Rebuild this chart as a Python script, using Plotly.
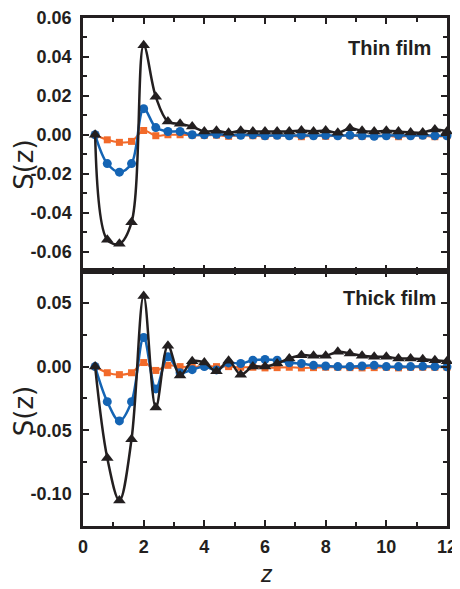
import plotly.graph_objects as go

z = [0.4, 0.8, 1.2, 1.6, 2.0, 2.4, 2.8, 3.2, 3.6, 4.0, 4.4, 4.8, 5.2, 5.6, 6.0,
     6.4, 6.8, 7.2, 7.6, 8.0, 8.4, 8.8, 9.2, 9.6, 10.0, 10.4, 10.8, 11.2, 11.6, 12.0]

thin_black = [0, -0.054, -0.056, -0.045, 0.046, 0.0195, 0.0068, 0.0056, 0.0042, 0.0017,
              0.002, 0.001, 0.002, 0.0017, 0.0017, 0.0017, 0.0017, 0.0022, 0.0017, 0.0022,
              0.001, 0.0033, 0.002, 0.0017, 0.002, 0.0017, 0.0012, 0.0012, 0.0027, 0.0017]
thin_blue = [0, -0.0148, -0.0192, -0.0148, 0.0134, 0.0037, 0.0017, 0.0017, 0.0, 0.0,
             0.0002, 0.0, -0.0003, 0.0, -0.0005, -0.0003, -0.0005, -0.0002, -0.0005, -0.0003,
             -0.0005, -0.0002, -0.0005, -0.0008, -0.0005, -0.0003, -0.0005, -0.0003, -0.0005, -0.0005]
thin_orange = [0, -0.0026, -0.0039, -0.0034, 0.0022, -0.0005, 0.0, 0.0, -0.0002, -0.0003,
               -0.0002, -0.0008, -0.0003, -0.0005, -0.0008, -0.0005, -0.0005, -0.001, -0.0005, -0.0008,
               -0.0005, -0.0005, -0.0008, -0.0005, -0.0005, -0.001, -0.0005, -0.0005, -0.001, -0.0005]

thick_black = [0, -0.0717, -0.105, -0.057, 0.0553, -0.032, 0.0164, -0.0069, 0.0042, 0.0032,
               -0.0037, 0.0045, -0.0063, 0.0, 0.0, 0.0024, 0.0064, 0.009, 0.0085, 0.0085,
               0.0116, 0.0103, 0.0085, 0.0077, 0.0077, 0.0064, 0.0064, 0.0058, 0.005, 0.0042]
thick_blue = [0, -0.0275, -0.0426, -0.0275, 0.0228, -0.0175, 0.0077, -0.0048, -0.0024, 0.0,
              -0.0026, 0.0029, 0.0024, 0.005, 0.0056, 0.005, 0.003, 0.0024, 0.001, 0.0005,
              0.0, 0.0, 0.0005, 0.001, 0.0, 0.0, 0.0, 0.0002, 0.0, -0.0002]
thick_orange = [0, -0.0048, -0.0063, -0.0048, 0.0032, -0.003, 0.001, 0.0, -0.0005, 0.0005,
                0.0, 0.0, -0.0005, -0.0005, -0.001, -0.0008, -0.0005, -0.001, -0.0008, -0.0005,
                -0.0005, -0.0008, -0.001, -0.0008, -0.0005, -0.001, -0.0005, -0.0005, -0.0005, -0.0005]

x_tickvals = [0, 2, 4, 6, 8, 10, 12]
x_ticktext = ["0", "2", "4", "6", "8", "10", "12"]
thin_tickvals = [-0.06, -0.04, -0.02, 0.0, 0.02, 0.04, 0.06]
thin_ticktext = ["-0.06", "-0.04", "-0.02", "0.00", "0.02", "0.04", "0.06"]
thick_tickvals = [-0.10, -0.05, 0.0, 0.05]
thick_ticktext = ["-0.10", "-0.05", "0.00", "0.05"]

INK = "#231f20"
BLUE = "#1464b4"
ORANGE = "#f26a2a"
FONT = "Liberation Sans, Arial, sans-serif"

fig = go.Figure()

def add_series(ys, color, symbol, size, width, xa, ya):
    fig.add_trace(go.Scatter(
        x=z, y=ys, mode="lines+markers", xaxis=xa, yaxis=ya,
        line=dict(color=color, width=width, shape="spline", smoothing=1.0),
        marker=dict(color=color, symbol=symbol, size=size, line=dict(width=0)),
        showlegend=False, cliponaxis=False))

add_series(thin_orange, ORANGE, "square", 7, 2, "x", "y")
add_series(thin_blue, BLUE, "circle", 9, 2.5, "x", "y")
add_series(thin_black, INK, "triangle-up", 11, 2.5, "x", "y")
add_series(thick_orange, ORANGE, "square", 7, 2, "x2", "y2")
add_series(thick_blue, BLUE, "circle", 9, 2.5, "x2", "y2")
add_series(thick_black, INK, "triangle-up", 11, 2.5, "x2", "y2")

tickfont = dict(family=FONT, size=18, color=INK, weight="bold")
common_x = dict(range=[0, 12], tickvals=x_tickvals, ticktext=x_ticktext,
                ticks="inside", ticklen=6, tickwidth=2, tickcolor=INK,
                minor=dict(ticks="inside", dtick=1, tick0=0, ticklen=4, tickwidth=1.5, tickcolor=INK),
                showline=True, linewidth=2.5, linecolor=INK, mirror="allticks",
                showgrid=False, zeroline=False, tickfont=tickfont, ticklabelstandoff=3,
                automargin=False)
common_y = dict(ticks="inside", ticklen=6, tickwidth=2, tickcolor=INK,
                showline=True, linewidth=2.5, linecolor=INK, mirror="allticks",
                showgrid=False, zeroline=False, tickfont=tickfont, ticklabelstandoff=5,
                automargin=False)

split = 0.502
fig.update_layout(
    width=460, height=589,
    margin=dict(l=75, r=21, t=10, b=71),
    paper_bgcolor="white", plot_bgcolor="white",
    xaxis=dict(common_x, anchor="y", domain=[0, 1], showticklabels=False),
    yaxis=dict(common_y, anchor="x", domain=[split, 1], range=[-0.07, 0.06],
               tickvals=thin_tickvals, ticktext=thin_ticktext,
               minor=dict(ticks="inside", dtick=0.01, tick0=0, ticklen=4, tickwidth=1.5, tickcolor=INK)),
    xaxis2=dict(common_x, anchor="y2", domain=[0, 1]),
    yaxis2=dict(common_y, anchor="x2", domain=[0, split], range=[-0.125, 0.075],
                tickvals=thick_tickvals, ticktext=thick_ticktext,
                minor=dict(ticks="inside", dtick=0.025, tick0=0, ticklen=4, tickwidth=1.5, tickcolor=INK)),
)

ann_font_title = dict(family="DejaVu Sans, sans-serif", size=26, color=INK)
fig.add_annotation(text="S(z)", xref="paper", yref="paper", x=-0.162, y=0.711,
                   textangle=-90, showarrow=False, font=ann_font_title,
                   xanchor="center", yanchor="middle", borderpad=0)
fig.add_annotation(text="S(z)", xref="paper", yref="paper", x=-0.162, y=0.226,
                   textangle=-90, showarrow=False, font=ann_font_title,
                   xanchor="center", yanchor="middle", borderpad=0)
fig.add_annotation(text="<i>z</i>", xref="paper", yref="paper", x=0.503, y=-0.122,
                   showarrow=False, font=dict(family=FONT, size=23, color=INK),
                   xanchor="center", yanchor="bottom", borderpad=0)
label_font = dict(family=FONT, size=20, color=INK, weight="bold")
fig.add_annotation(text="Thin film", xref="paper", yref="paper", x=0.9615, y=0.941,
                   showarrow=False, font=label_font, xanchor="right", yanchor="middle")
fig.add_annotation(text="Thick film", xref="paper", yref="paper", x=0.975, y=0.449,
                   showarrow=False, font=label_font, xanchor="right", yanchor="middle")

fig.write_html("out.html")
